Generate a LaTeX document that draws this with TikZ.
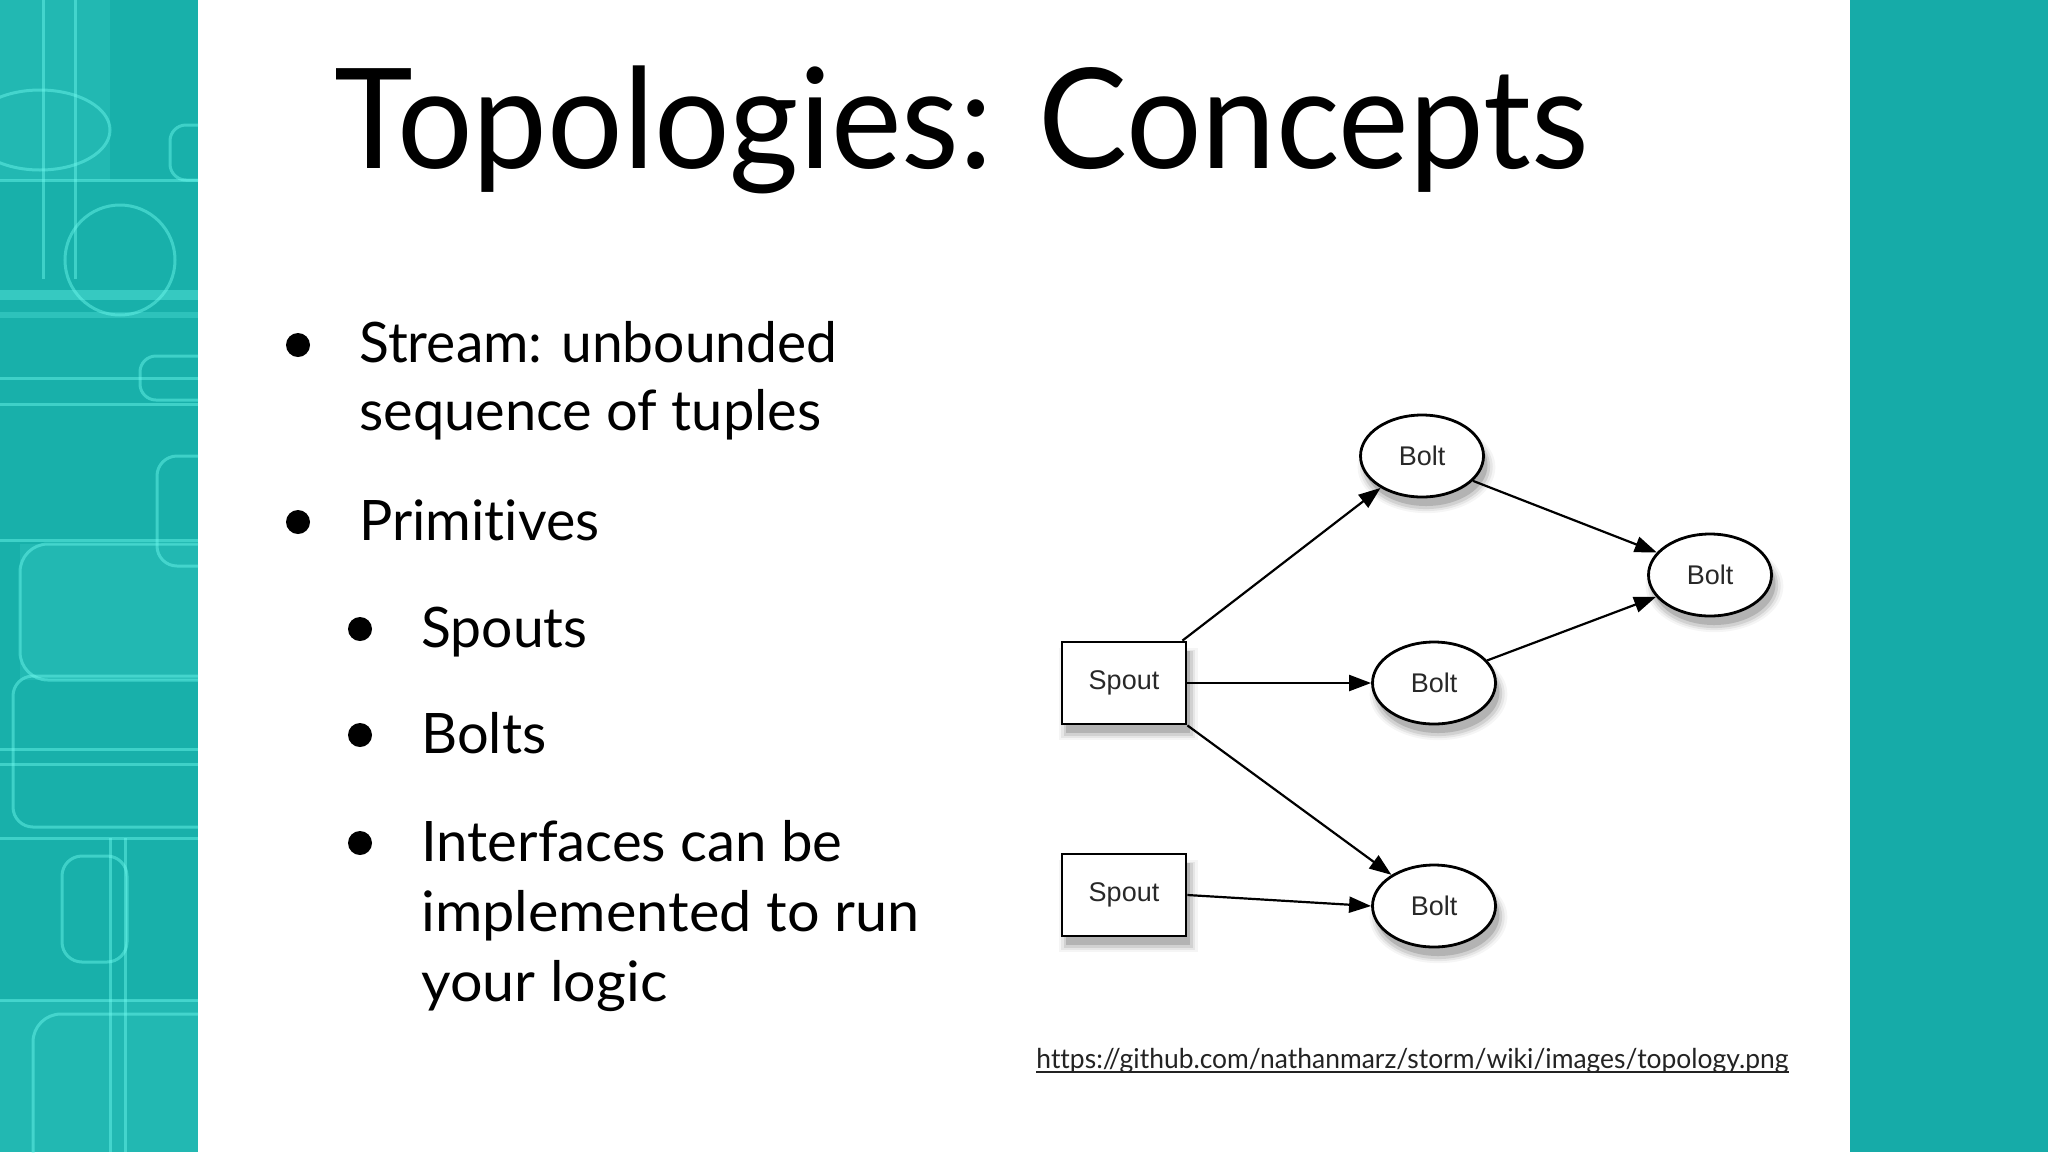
\documentclass[tikz,border=0pt]{standalone}
\usepackage{graphicx}
\usepackage{fontspec}
\setmainfont{Lato}[Ligatures={NoCommon,NoRare,NoContextual}]
\newfontfamily\helv{Liberation Sans}
\usetikzlibrary{shapes.geometric,arrows.meta,shadows}
\definecolor{tealL}{RGB}{24,176,170}
\definecolor{tealR}{RGB}{22,171,168}
\definecolor{cyanline}{RGB}{110,250,238}
\definecolor{nodetext}{RGB}{40,40,40}
\definecolor{urlgray}{RGB}{35,35,35}
\tikzset{
  softshadow/.style={
    general shadow={fill=black,opacity=.04,shadow xshift=2pt,shadow yshift=-5pt,shadow scale=1.12},
    general shadow={fill=black,opacity=.06,shadow xshift=2pt,shadow yshift=-5pt,shadow scale=1.08},
    general shadow={fill=black,opacity=.09,shadow xshift=2pt,shadow yshift=-5pt,shadow scale=1.04},
    general shadow={fill=black,opacity=.14,shadow xshift=2pt,shadow yshift=-4.5pt}},
  spoutbox/.style={draw=black,line width=1.4pt,fill=white,rectangle,minimum width=62pt,minimum height=41pt,inner sep=0pt,font=\helv\fontsize{13.5}{14}\selectfont,text=nodetext,softshadow},
  boltell/.style={draw=black,line width=1.4pt,fill=white,ellipse,minimum width=61.5pt,minimum height=41pt,inner sep=0pt,font=\helv\fontsize{13.5}{14}\selectfont,text=nodetext,softshadow},
  arr/.style={line width=1.1pt,-{Triangle[length=11pt,width=8pt]}},
  body/.style={anchor=base west,inner sep=0pt,font=\fontsize{27.9}{30}\selectfont},
  bulletdot/.style={fill=black},
  deco/.style={draw=cyanline,line width=1.5pt,opacity=.45},
  decofill/.style={fill=cyanline,opacity=.12}
}
\begin{document}
\begin{tikzpicture}[x=0.5pt,y=-0.5pt]
\useasboundingbox (0,0) rectangle (2048,1152);
\fill[white] (0,0) rectangle (2048,1152);
% left decorative panel
\fill[tealL] (0,0) rectangle (198,1152);
\begin{scope}
\clip (0,0) rectangle (198,1152);
\fill[decofill] (0,0) rectangle (110,180);
\fill[decofill] (20,544) rectangle (198,680);
\fill[decofill] (0,1000) rectangle (198,1152);
\fill[cyanline,opacity=.35] (0,290) rectangle (198,300);
\fill[cyanline,opacity=.25] (0,312) rectangle (198,318);
\draw[deco] (43,0) -- (43,279);
\draw[deco] (75,0) -- (75,279);
\draw[deco] (0,378) -- (198,378);
\draw[deco] (0,404) -- (198,404);
\draw[deco,rounded corners=14pt] (20,544) rectangle (230,680);
\draw[deco,rounded corners=10pt] (13,676) rectangle (230,827);
\draw[deco] (0,749) -- (198,749);
\draw[deco] (0,764) -- (198,764);
\draw[deco] (0,838) -- (198,838);
\draw[deco] (0,1000) -- (198,1000);
\draw[deco] (110,838) -- (110,1152);
\draw[deco] (125,838) -- (125,1152);
\draw[deco,rounded corners=10pt] (157,456) rectangle (230,566);
\draw[deco,rounded corners=8pt] (170,125) rectangle (230,180);
\draw[deco,rounded corners=8pt] (140,356) rectangle (230,400);
\draw[deco,rounded corners=10pt] (62,856) rectangle (127,962);
\draw[deco,rounded corners=14pt] (33,1014) rectangle (230,1190);
\draw[deco] (120,260) circle (55);
\draw[deco] (40,130) ellipse (70 and 40);
\draw[deco] (0,180) -- (198,180);
\draw[deco] (0,540) -- (198,540);
\end{scope}
% right panel
\fill[tealR] (1850,0) rectangle (2048,1152);

% title
\node[anchor=base west,inner sep=0pt,font=\fontsize{69.7}{72}\selectfont] (title) at (334,168)
  {\resizebox{627pt}{\height}{Topologies: Concepts}};

% bullets
\fill[bulletdot] (298,345) circle (12);
\node[body] (l1) at (359,362) {\resizebox{239pt}{\height}{Stream: unbounded}};
\node[body] (l2) at (359,430) {\resizebox{231pt}{\height}{sequence of tuples}};
\fill[bulletdot] (298,522) circle (12);
\node[body] (l3) at (359,540) {\resizebox{120pt}{\height}{Primit\kern0pt ives}};
\fill[bulletdot] (360,629) circle (12);
\node[body] (l4) at (421,647) {\resizebox{83pt}{\height}{Spouts}};
\fill[bulletdot] (360,735) circle (12);
\node[body] (l5) at (421,753) {\resizebox{62.5pt}{\height}{Bolts}};
\fill[bulletdot] (360,843) circle (12);
\node[body] (l6) at (421,861) {\resizebox{210.5pt}{\height}{Interfaces can be}};
\node[body] (l7) at (421,931) {\resizebox{249pt}{\height}{implemented to run}};
\node[body] (l8) at (421,1001) {\resizebox{123pt}{\height}{your logic}};

% diagram
\node[spoutbox] (sp1) at (1124,683) {Spout};
\node[spoutbox] (sp2) at (1124,895) {Spout};
\node[boltell] (bt) at (1422,456) {Bolt};
\node[boltell] (br) at (1710,575) {Bolt};
\node[boltell] (bm) at (1434,683) {Bolt};
\node[boltell] (bb) at (1434,906) {Bolt};

\draw[arr] ([xshift=-2.5pt]sp1.north east) -- (bt);
\draw[arr] (sp1.east) -- (bm.west);
\draw[arr] (sp1.south east) -- (bb);
\draw[arr] (sp2.east) -- (bb.west);
\draw[arr] (bt.-26) -- (br.157);
\draw[arr] (bm.23) -- (br.202);

% source url
\node[anchor=base west,inner sep=0pt,font=\fontsize{13.7}{15}\selectfont,text=urlgray] (url) at (1036,1068)
  {\resizebox{376pt}{\height}{https://github.com/nathanmarz/storm/wiki/images/topology.png}};
\draw[urlgray,line width=0.8pt] ([yshift=-2pt]url.base west) -- ([yshift=-2pt]url.base east);
\end{tikzpicture}
\end{document}
